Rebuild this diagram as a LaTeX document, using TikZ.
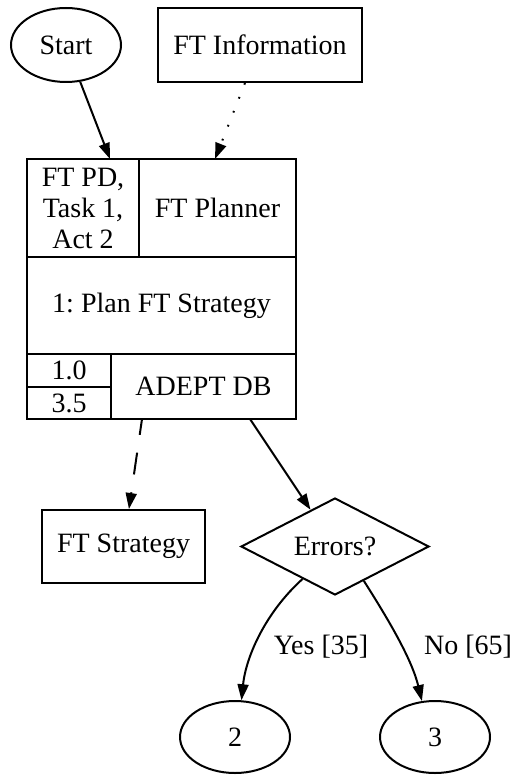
\documentclass[tikz,border=0pt]{standalone}
\usepackage{fontspec}
\setmainfont{Liberation Serif}
\usetikzlibrary{shapes.geometric,arrows.meta}
\frenchspacing
\begin{document}
\begin{tikzpicture}[x=0.5pt,y=-0.5pt,
  every node/.style={font=\fontsize{14}{15.5}\selectfont, inner sep=0pt, line width=1pt},
  box/.style={draw, rectangle},
  oval/.style={draw, ellipse, minimum width=55pt, minimum height=37pt},
  cell/.style={draw, rectangle, align=center},
  edge/.style={line width=1pt, -{Triangle[length=8pt,width=5.5pt]}},
]
\useasboundingbox (0,0) rectangle (514,775);
% top nodes
\node[oval] (st) at (66,45) {Start};
\node[box, minimum width=102pt, minimum height=37pt] (info) at (260,45) {FT Information};
% record
\node[box, minimum width=134.5pt, minimum height=130pt] (rec) at (161.5,289) {};
\node[cell, minimum width=56pt, minimum height=49pt] (pd) at (83,208) {FT PD,\\Task 1,\\Act 2};
\node[cell, minimum width=78.5pt, minimum height=49pt] (planner) at (217.5,208) {FT Planner};
\node[cell, minimum width=134.5pt, minimum height=48.5pt] (plan) at (161.5,305.5) {1: Plan FT Strategy};
\node[cell, minimum width=42pt, minimum height=16.5pt] (v1) at (69,370.5) {1.0};
\node[cell, minimum width=42pt, minimum height=16pt] (v2) at (69,403) {3.5};
\node[cell, minimum width=92.5pt, minimum height=32.5pt] (db) at (203.5,386.5) {ADEPT DB};
% lower nodes
\node[box, minimum width=81.5pt, minimum height=36.5pt] (fts) at (123.5,546.5) {FT Strategy};
\node[draw, diamond, aspect=2, minimum width=94pt, minimum height=48.5pt] (err) at (335,546.5) {Errors?};
\node[oval, minimum height=36pt] (n2) at (235,737) {2};
\node[oval, minimum height=36pt] (n3) at (435,737) {3};
% labels
\node (ly) at (321,647) {Yes [35]};
\node (ln) at (468,647) {No [65]};
% connectors
\coordinate (in1) at (110,159);
\coordinate (in2) at (215,159);
\coordinate (out1) at (142,419);
\coordinate (out2) at (250,419);
\draw[edge] (st) -- (in1);
\draw[edge, dash pattern=on 0.9pt off 6.6pt] (info) -- (in2);
\draw[edge, dash pattern=on 8pt off 9pt on 11pt off 9pt] (out1) -- (fts);
\draw[edge] (out2) -- (err);
\draw[edge] (err.225) .. controls (266,612) and (246,656) .. (n2.80);
\draw[edge] (err.310) .. controls (390,622) and (412,660) .. (n3.110);
\end{tikzpicture}
\end{document}
